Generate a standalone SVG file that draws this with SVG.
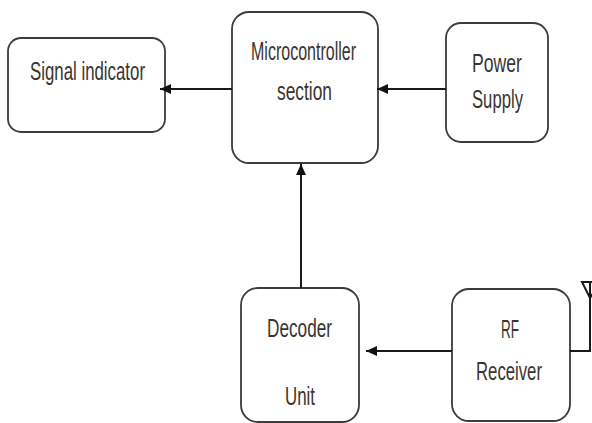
<svg xmlns="http://www.w3.org/2000/svg" width="592" height="423" viewBox="0 0 592 423">
<style>
.box{fill:#fff;stroke:#3c3c3c;stroke-width:1.8}
.lbl{font-family:"Liberation Sans",Arial,sans-serif;font-size:25px;fill:#3a3530}
.con{fill:none;stroke:#1a1a1a;stroke-width:2}
</style>
<defs>
<marker id="ah" markerUnits="userSpaceOnUse" markerWidth="12" markerHeight="12" viewBox="0 0 12 12" refX="11" refY="6" orient="auto">
<path d="M0,1 L11,6 L0,11 Z" fill="#111"/>
</marker>
</defs>
<rect width="592" height="423" fill="#fff"/>
<g id="signal">
<rect class="box" x="8" y="38" width="157" height="94" rx="13"/>
<text class="lbl" x="30" y="80" textLength="115" lengthAdjust="spacingAndGlyphs">Signal indicator</text>
</g>
<g id="micro">
<rect class="box" x="232" y="12" width="146" height="151" rx="17"/>
<text class="lbl" x="251" y="60" textLength="105" lengthAdjust="spacingAndGlyphs">Microcontroller</text>
<text class="lbl" x="277" y="100" textLength="55" lengthAdjust="spacingAndGlyphs">section</text>
</g>
<g id="power">
<rect class="box" x="446" y="23" width="102" height="119" rx="15"/>
<text class="lbl" x="472" y="72" textLength="50" lengthAdjust="spacingAndGlyphs">Power</text>
<text class="lbl" x="472" y="108" textLength="51" lengthAdjust="spacingAndGlyphs">Supply</text>
</g>
<g id="decoder">
<rect class="box" x="241" y="288" width="118" height="134" rx="17"/>
<text class="lbl" x="267" y="337" textLength="65" lengthAdjust="spacingAndGlyphs">Decoder</text>
<text class="lbl" x="285" y="405" textLength="30" lengthAdjust="spacingAndGlyphs">Unit</text>
</g>
<g id="rf">
<rect class="box" x="452" y="289" width="118" height="132" rx="17"/>
<text class="lbl" x="501" y="338" textLength="18" lengthAdjust="spacingAndGlyphs">RF</text>
<text class="lbl" x="476" y="380" textLength="66" lengthAdjust="spacingAndGlyphs">Receiver</text>
</g>
<g id="antenna">
<path class="con" d="M570,351 H590 V282"/>
<path class="con" d="M582,282 H600 L590,298 Z"/>
</g>
<g id="connectors">
<line class="con" x1="232" y1="89" x2="160" y2="89" marker-end="url(#ah)"/>
<line class="con" x1="446" y1="89" x2="377" y2="89" marker-end="url(#ah)"/>
<line class="con" x1="301" y1="288" x2="301" y2="164" marker-end="url(#ah)"/>
<line class="con" x1="452" y1="351" x2="366" y2="351" marker-end="url(#ah)"/>
</g>
</svg>
